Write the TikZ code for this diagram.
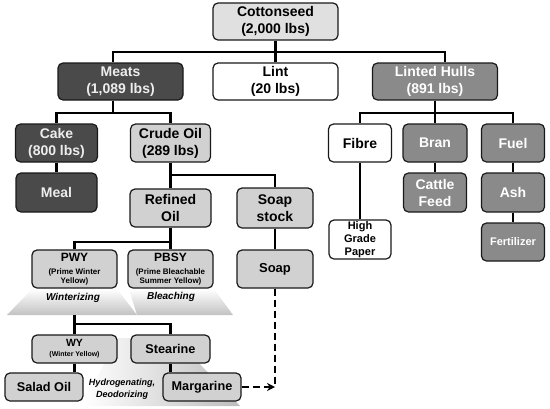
\documentclass[tikz,border=0pt]{standalone}
\usepackage{fontspec}
\setmainfont{Liberation Sans}
\usetikzlibrary{arrows.meta}
\begin{document}
\begin{tikzpicture}[x=1pt, y=-1pt, >={Stealth[length=8pt,width=8pt]}]
  \tikzset{box/.style={draw=black!90, line width=1.2pt, rounded corners=5pt, inner sep=0pt, align=center, font=\bfseries\fontsize{14}{17}\selectfont},
    dark/.style={box, fill=black!71, text=black!7},
    mid/.style={box, fill=black!46, text=white},
    light/.style={box, fill=black!18},
    plain/.style={box, fill=white},
    conn/.style={line width=2.9pt},
    proc/.style={font=\bfseries\itshape\fontsize{10}{12}\selectfont, align=center, inner sep=0pt}}
  \useasboundingbox (0,0) rectangle (550,408);
  % process shading
  \shade[top color=white, bottom color=black!24] (32,289) -- (117,289) -- (137,315) -- (7,315) -- cycle;
  \shade[top color=white, bottom color=black!24] (129,289) -- (214,289) -- (233,315) -- (137,315) -- cycle;
  \shade[left color=white, right color=black!26] (117,338) -- (175,338) -- (240,406) -- (83,406) -- cycle;
  % top level
  \node[light, fill=black!12, minimum width=125pt, minimum height=37pt] (cotton) at (275.5,21.5) {Cottonseed\\(2,000 lbs)};
  \node[dark, minimum width=125pt, minimum height=37pt] (meats) at (120.5,81.5) {Meats\\(1,089 lbs)};
  \node[plain, minimum width=125pt, minimum height=37pt] (lint) at (275.5,81.5) {Lint\\(20 lbs)};
  \node[mid, minimum width=125pt, minimum height=37pt] (hulls) at (435,81.5) {Linted Hulls\\(891 lbs)};
  % meats side
  \node[dark, minimum width=82pt, minimum height=38pt] (cake) at (56.5,143) {Cake\\(800 lbs)};
  \node[light, minimum width=80pt, minimum height=38pt] (crude) at (170.5,143) {Crude Oil\\(289 lbs)};
  \node[dark, minimum width=81pt, minimum height=39pt] (meal) at (56.5,192.5) {Meal};
  \node[light, minimum width=81pt, minimum height=38pt] (refined) at (170.5,208) {Refined\\Oil};
  \node[light, minimum width=76pt, minimum height=40pt] (stock) at (275,208) {Soap\\stock};
  \node[light, minimum width=76pt, minimum height=38pt, font=\bfseries\fontsize{13}{15}\selectfont] (soap) at (275,269) {Soap};
  \node[light, minimum width=85pt, minimum height=38pt, font=\bfseries\fontsize{8}{9}\selectfont] (pwy) at (74.5,269)
    {{\fontsize{12}{12}\selectfont PWY}\\[4pt](Prime Winter\\Yellow)};
  \node[light, minimum width=85pt, minimum height=38pt, font=\bfseries\fontsize{8}{9}\selectfont] (pbsy) at (170.5,269)
    {{\fontsize{12}{12}\selectfont PBSY}\\[4pt](Prime Bleachable\\Summer Yellow)};
  \node[proc] (wint) at (73,298) {Winterizing};
  \node[proc] (bleach) at (171,297) {Bleaching};
  \node[light, minimum width=85pt, minimum height=28pt, font=\bfseries\fontsize{7}{8}\selectfont] (wy) at (74.5,349)
    {{\fontsize{10.5}{10.5}\selectfont WY}\\[2pt](Winter Yellow)};
  \node[light, minimum width=79pt, minimum height=28pt, font=\bfseries\fontsize{12.7}{15}\selectfont] (stearine) at (170.5,349) {Stearine};
  \node[light, minimum width=78pt, minimum height=28pt, font=\bfseries\fontsize{12.7}{15}\selectfont] (salad) at (44,387) {Salad Oil};
  \node[light, minimum width=78pt, minimum height=28pt, font=\bfseries\fontsize{12.7}{15}\selectfont] (marg) at (202,387) {Margarine};
  \node[proc, font=\bfseries\itshape\fontsize{9}{12}\selectfont] (hydro) at (122,389) {Hydrogenating,\\Deodorizing};
  % hulls side
  \node[plain, minimum width=63pt, minimum height=38pt] (fibre) at (360,143) {Fibre};
  \node[mid, minimum width=64pt, minimum height=38pt] (bran) at (435,143) {Bran};
  \node[mid, minimum width=63pt, minimum height=38pt] (fuel) at (513,143) {Fuel};
  \node[plain, minimum width=62pt, minimum height=39pt, font=\bfseries\fontsize{11}{13}\selectfont] (paper) at (360,239.5) {High\\Grade\\Paper};
  \node[mid, minimum width=63pt, minimum height=39pt] (cattle) at (435,192.5) {Cattle\\Feed};
  \node[mid, minimum width=63pt, minimum height=39pt] (ash) at (513,192.5) {Ash};
  \node[mid, minimum width=63pt, minimum height=38pt, font=\bfseries\fontsize{11}{13}\selectfont] (fert) at (513,242) {Fertilizer};
  % connectors
  \coordinate (b1l) at (113,52);
  \coordinate (b1r) at (445,52);
  \draw[conn] (cotton) -- (cotton |- b1l);
  \draw[conn] (meats.north -| b1l) -- (b1l) -- (b1r) -- (hulls.north -| b1r);
  \draw[conn] (lint) -- (lint |- b1l);
  \coordinate (b2) at (113,113);
  \draw[conn] (meats.south -| b2) -- (b2);
  \draw[conn] (cake) |- (b2) -| (crude);
  \draw[conn] (cake) -- (meal);
  \coordinate (b3) at (170.5,175);
  \draw[conn] (crude) -- (refined);
  \draw[conn] (b3) -| (stock);
  \draw[conn] (stock) -- (soap);
  \coordinate (b4) at (170.5,242);
  \draw[conn] (refined) -- (pbsy);
  \draw[conn] (b4) -| (pwy);
  \coordinate (wbot) at (74.5,315);
  \coordinate (b5) at (74.5,324);
  \draw[conn] (wbot) -- (wy);
  \draw[conn] (b5) -| (stearine);
  \draw[conn] (wy.south) -- (wy.south |- salad.north);
  \draw[conn] (stearine.south) -- (stearine.south |- marg.north);
  \coordinate (turn) at (soap.south |- marg.east);
  \draw[line width=2.7pt, dash pattern=on 7pt off 4pt] (soap) -- (turn);
  \draw[line width=2.7pt, dash pattern=on 7pt off 4pt, ->] (marg) -- (turn);
  \coordinate (b6) at (435,113);
  \draw[conn] (hulls) -- (bran);
  \draw[conn] (fibre) |- (b6) -| (fuel);
  \draw[conn] (fibre) -- (paper);
  \draw[conn] (bran) -- (cattle);
  \draw[conn] (fuel) -- (ash);
  \draw[conn] (ash) -- (fert);
\end{tikzpicture}
\end{document}
